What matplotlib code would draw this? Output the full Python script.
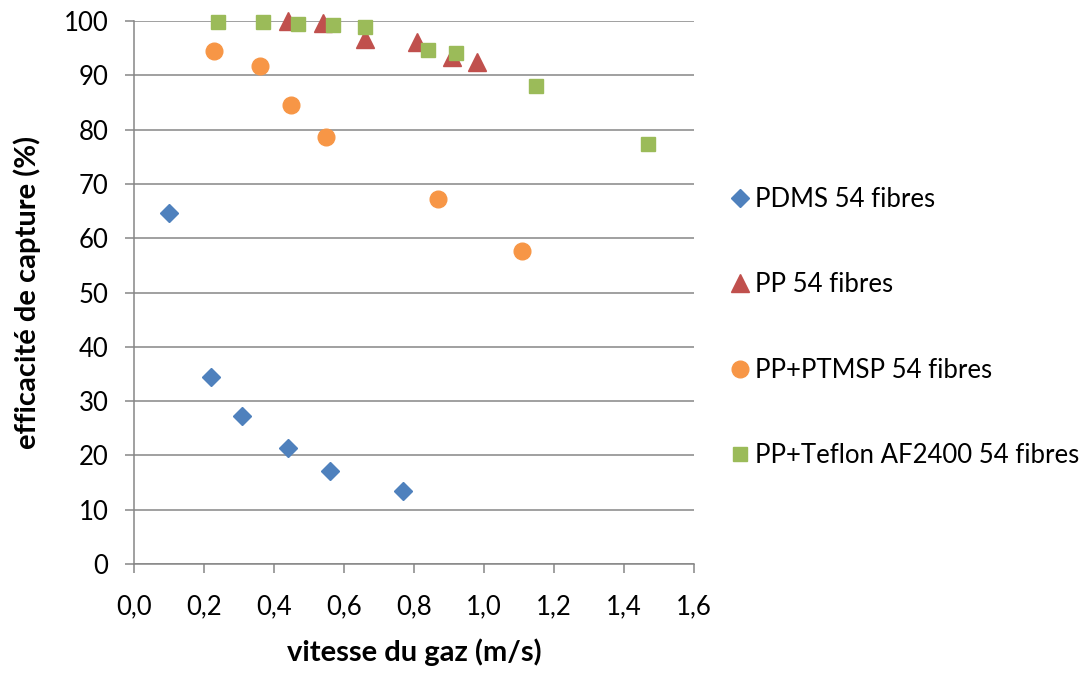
import matplotlib
matplotlib.use('Agg')
import matplotlib.pyplot as plt
from matplotlib.ticker import FuncFormatter

plt.rcParams['font.family'] = ['Lato', 'DejaVu Sans']

# vitesse du gaz (m/s) / efficacite de capture (%)
pdms_x = [0.10, 0.22, 0.31, 0.44, 0.56, 0.77]
pdms_y = [64.7, 34.4, 27.2, 21.4, 17.1, 13.5]

pp_x = [0.44, 0.54, 0.66, 0.81, 0.91, 0.98]
pp_y = [100.0, 99.7, 96.6, 96.2, 93.3, 92.4]

ptmsp_x = [0.23, 0.36, 0.45, 0.55, 0.87, 1.11]
ptmsp_y = [94.4, 91.7, 84.5, 78.6, 67.2, 57.6]

teflon_x = [0.24, 0.37, 0.47, 0.57, 0.66, 0.84, 0.92, 1.15, 1.47]
teflon_y = [99.8, 99.9, 99.5, 99.2, 98.9, 94.6, 94.1, 88.1, 77.3]

grey = '#868686'

fig = plt.figure(figsize=(10.84, 6.8), dpi=100)
ax = fig.add_axes([0.1236, 0.1706, 0.5166, 0.7985])

ax.plot(pdms_x, pdms_y, 'D', ms=9.5, color='#4F81BD', mec='#4F81BD',
        label='PDMS 54 fibres', zorder=3, clip_on=False)
ax.plot(pp_x, pp_y, '^', ms=13, color='#C0504D', mec='#C0504D',
        label='PP 54 fibres', zorder=3, clip_on=False)
ax.plot(ptmsp_x, ptmsp_y, 'o', ms=12, color='#F79646', mec='#F79646',
        label='PP+PTMSP 54 fibres', zorder=3, clip_on=False)
ax.plot(teflon_x, teflon_y, 's', ms=9.7, color='#9BBB59', mec='#9BBB59',
        label='PP+Teflon AF2400 54 fibres', zorder=4, clip_on=False)

ax.set_xlim(0, 1.6)
ax.set_ylim(0, 100)
ax.set_xticks([i * 0.2 for i in range(9)])
ax.set_yticks(range(0, 101, 10))
ax.xaxis.set_major_formatter(FuncFormatter(lambda v, p: ('%.1f' % v).replace('.', ',')))

ax.yaxis.grid(True, color=grey, lw=1.1)
ax.set_axisbelow(True)
for s in ['top', 'right']:
    ax.spines[s].set_visible(False)
for s in ['left', 'bottom']:
    ax.spines[s].set_color(grey)
    ax.spines[s].set_linewidth(1.1)

ax.tick_params(axis='both', colors=grey, labelcolor='black', labelsize=18.5,
               length=6.5, width=1.1)
ax.tick_params(axis='x', pad=15)
ax.tick_params(axis='y', pad=12)

ax.set_xlabel('vitesse du gaz (m/s)', fontsize=21, fontweight='bold', labelpad=14)
ax.set_ylabel('efficacité de capture (%)', fontsize=21, fontweight='bold', labelpad=16)

fig.legend(loc='upper left', bbox_to_anchor=(0.66, 0.74), frameon=False,
           fontsize=18.5, labelspacing=2.35, handletextpad=0.05, handlelength=1.1,
           borderaxespad=0)

fig.savefig('out.png', dpi=100)
